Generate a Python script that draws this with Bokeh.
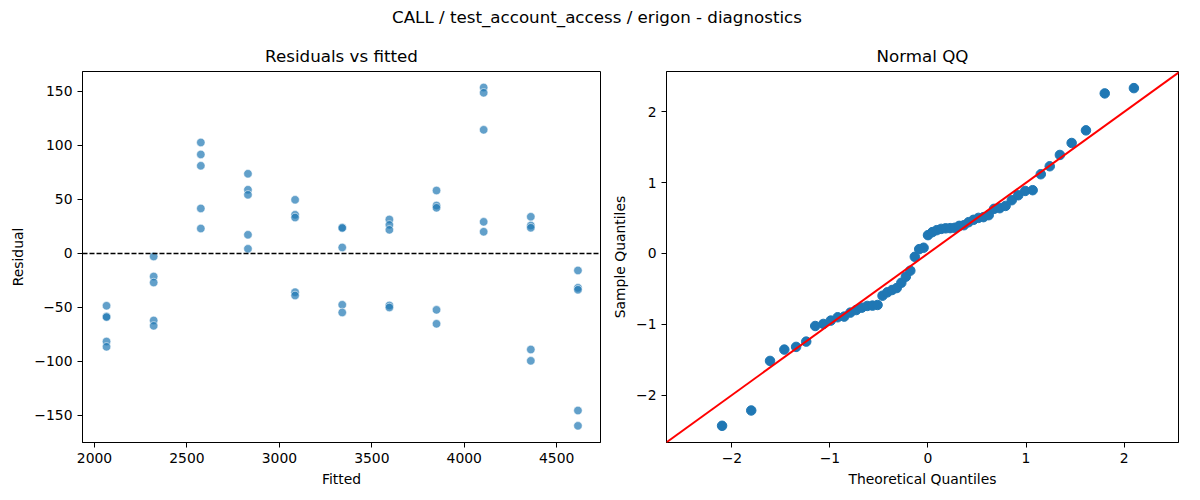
from statistics import NormalDist
import numpy as np
from bokeh.plotting import figure
from bokeh.layouts import column, row
from bokeh.models import Div, Span, Slope, FixedTicker, Range1d
from bokeh.embed import file_html
from bokeh.resources import INLINE

SUPTITLE = "CALL / test_account_access / erigon - diagnostics"

# fitted value of each group (5 observations per group)
fitted_levels = [2065, 2320, 2575, 2830, 3085, 3340, 3595, 3850, 4105, 4360, 4615]
# residuals, group by group
res_g01 = [-48.4, -58.3, -58.9, -81.5, -86.4]
res_g02 = [-2.8, -21.3, -26.9, -62.0, -67.0]
res_g03 = [102.8, 91.7, 81.2, 41.7, 23.1]
res_g04 = [73.8, 59.0, 54.3, 17.3, 4.3]
res_g05 = [49.7, 35.8, 33.3, -35.8, -38.9]
res_g06 = [24.1, 23.6, 5.6, -47.5, -54.6]
res_g07 = [31.5, 26.5, 21.9, -48.1, -50.0]
res_g08 = [58.3, 44.4, 42.3, -52.2, -65.1]
res_g09 = [153.7, 148.8, 114.5, 29.3, 20.1]
res_g10 = [34.0, 25.9, 23.8, -88.9, -99.4]
res_g11 = [-15.7, -31.8, -33.6, -145.4, -159.6]
residual_groups = [res_g01, res_g02, res_g03, res_g04, res_g05, res_g06,
                   res_g07, res_g08, res_g09, res_g10, res_g11]

left_xticks = [2000, 2500, 3000, 3500, 4000, 4500]
left_yticks = [-150, -100, -50, 0, 50, 100, 150]
right_xticks = [-2, -1, 0, 1, 2]
right_yticks = [-2, -1, 0, 1, 2]

fitted = []
resid = []
for lvl, grp in zip(fitted_levels, residual_groups):
    for r in grp:
        fitted.append(lvl)
        resid.append(r)

# normal QQ (standardised residuals vs. normal plotting positions i/(n+1))
r = np.array(resid)
n = len(r)
sample_q = np.sort((r - r.mean()) / r.std())
theo_q = [NormalDist().inv_cdf(i / (n + 1)) for i in range(1, n + 1)]

FONT = "DejaVu Sans"
BLUE = "#1f77b4"


def minus(t):
    return ("\u2212" + str(abs(t))) if t < 0 else str(t)


def style(p, xticks, yticks, xlabel, ylabel):
    p.title.text_font = FONT
    p.title.text_font_size = "16.7px"
    p.title.text_font_style = "normal"
    p.title.align = "center"
    p.title.text_color = "black"
    p.title.standoff = 11
    p.outline_line_color = "black"
    p.outline_line_alpha = 1
    p.outline_line_width = 1
    p.xgrid.visible = False
    p.ygrid.visible = False
    for ax, ticks, lab in ((p.xaxis[0], xticks, xlabel), (p.yaxis[0], yticks, ylabel)):
        ax.ticker = FixedTicker(ticks=ticks)
        ax.major_label_overrides = {t: minus(t) for t in ticks}
        ax.axis_label = lab
        ax.axis_label_text_font = FONT
        ax.axis_label_text_font_size = "13.9px"
        ax.axis_label_text_font_style = "normal"
        ax.axis_label_text_color = "black"
        ax.major_label_text_font = FONT
        ax.major_label_text_font_size = "13.9px"
        ax.major_label_text_color = "black"
        ax.major_tick_out = 5
        ax.major_tick_in = 0
        ax.minor_tick_out = 0
        ax.minor_tick_in = 0
        ax.major_tick_line_color = "black"
        ax.axis_line_color = "black"
        ax.major_label_standoff = 5
        ax.axis_label_standoff = 5


p1 = figure(frame_width=518, frame_height=371, output_backend="svg",
            toolbar_location=None, title="Residuals vs fitted",
            x_range=Range1d(1935, 4737), y_range=Range1d(-175, 168.5),
            min_border_left=82, min_border_right=6, min_border_top=37,
            min_border_bottom=50)
style(p1, left_xticks, left_yticks, "Fitted", "Residual")
p1.scatter(fitted, resid, size=8.5, fill_color=BLUE, fill_alpha=0.7,
           line_color="white", line_alpha=0.7, line_width=0.8)
p1.add_layout(Span(location=0, dimension="width", line_color="black",
                   line_dash="5 2", line_width=1.3))

p2 = figure(frame_width=512, frame_height=371, output_backend="svg",
            toolbar_location=None, title="Normal QQ",
            x_range=Range1d(-2.667, 2.555), y_range=Range1d(-2.67, 2.57),
            min_border_left=60, min_border_right=14, min_border_top=37,
            min_border_bottom=50)
style(p2, right_xticks, right_yticks, "Theoretical Quantiles", "Sample Quantiles")
p2.scatter(theo_q, sample_q, size=9.5, fill_color=BLUE, line_color=BLUE)
p2.add_layout(Slope(gradient=1, y_intercept=0, line_color="red", line_width=2))

title = Div(text=SUPTITLE, width=1184, height=24,
            styles={"font-family": FONT, "font-size": "16.7px", "color": "black",
                    "text-align": "center", "line-height": "24px", "width": "1184px"})

layout = column(title, row(p1, p2))
open("out.html", "w").write(file_html(layout, INLINE))
